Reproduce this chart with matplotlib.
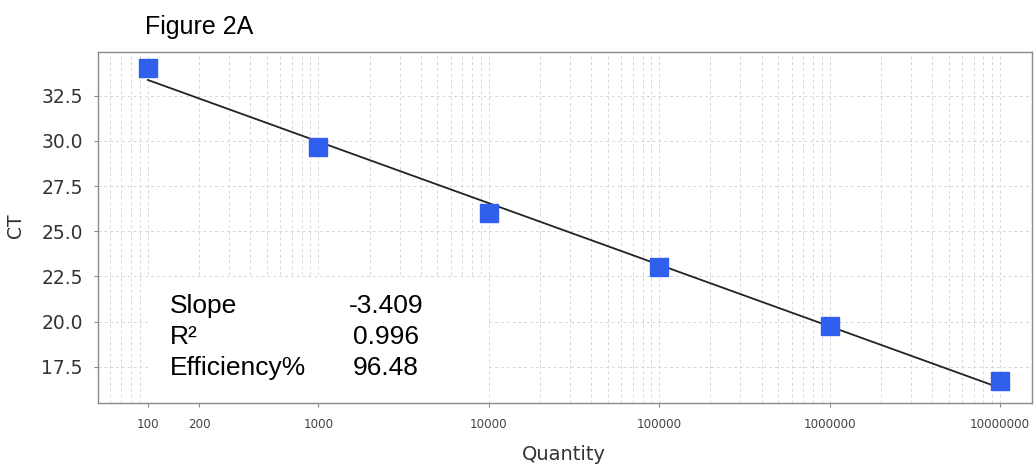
import numpy as np
import matplotlib
matplotlib.use("Agg")
import matplotlib.pyplot as plt
from matplotlib.patches import Rectangle
from matplotlib.ticker import FixedLocator, FixedFormatter, LogLocator, NullFormatter

plt.rcParams['font.family'] = ['DejaVu Sans']

quantity = [100, 1000, 10000, 100000, 1000000, 10000000]
ct = [34.0, 29.65, 26.0, 23.0, 19.75, 16.7]
x_ticks = [100, 200, 1000, 10000, 100000, 1000000, 10000000]
x_tick_labels = ["100", "200", "1000", "10000", "100000", "1000000", "10000000"]
y_ticks = [17.5, 20.0, 22.5, 25.0, 27.5, 30.0, 32.5]
stat_names = ["Slope", "R\u00b2", "Efficiency%"]
stat_values = ["-3.409", "0.996", "96.48"]

fig = plt.figure(figsize=(10.34, 4.66), dpi=100)
ax = fig.add_axes([0.0948, 0.1352, 0.9032, 0.7528])
ax.set_xscale('log')
ax.set_xlim(51, 1.54e7)
ax.set_ylim(15.5, 34.9)

# grid
ax.xaxis.set_major_locator(FixedLocator(x_ticks))
ax.xaxis.set_major_formatter(FixedFormatter(x_tick_labels))
ax.xaxis.set_minor_locator(LogLocator(base=10, subs=np.arange(2, 10)))
ax.xaxis.set_minor_formatter(NullFormatter())
ax.set_yticks(y_ticks)
ax.set_yticklabels([f"{v:.1f}" for v in y_ticks])
ax.grid(True, which='both', axis='x', color='#d6d6d6', linestyle=(0, (3, 3)), linewidth=0.7)
ax.grid(True, which='major', axis='y', color='#d6d6d6', linestyle=(0, (3, 3)), linewidth=0.7)
ax.set_axisbelow(True)

# fit line
lx = np.log10(quantity)
coef = np.polyfit(lx, ct, 1)
xf = np.array([quantity[0], quantity[-1]])
ax.plot(xf, np.polyval(coef, np.log10(xf)), color='#222222', lw=1.3, zorder=3)
ax.plot(quantity, ct, 's', color='#2F5FEC', markersize=12.5, zorder=4)

# stats box
ax.add_patch(Rectangle((0.0535, 0.0), 0.364, 0.359, transform=ax.transAxes,
                       facecolor='white', edgecolor='none', zorder=2.5))
ys = [0.256, 0.168, 0.080]
for name, val, yy in zip(stat_names, stat_values, ys):
    ax.text(0.077, yy, name, transform=ax.transAxes, fontsize=19, va='baseline', ha='left',
            color='black', zorder=5, family='Liberation Sans')
    ax.text(0.3085, yy, val, transform=ax.transAxes, fontsize=19, va='baseline', ha='center',
            color='black', zorder=5, family='Liberation Sans')

for s in ax.spines.values():
    s.set_color('#8a8a8a')
    s.set_linewidth(1.0)

ax.tick_params(axis='x', which='major', labelsize=8.6, colors='#8a8a8a', labelcolor='#444444', length=3, pad=8)
ax.tick_params(axis='x', which='minor', length=0)
ax.tick_params(axis='y', labelsize=13.5, colors='#8a8a8a', labelcolor='#333333', length=3, pad=8)

fig.text(564 / 1034, 1 - 460 / 466, "Quantity", fontsize=14, color='#333333', ha='center', va='baseline')
fig.text(16 / 1034, 1 - 225.5 / 466, "CT", fontsize=13.5, color='#333333', ha='center', va='center', rotation=90)

fig.text(145 / 1034, 1 - 34 / 466, "Figure 2A", fontsize=18, color='black', ha='left', va='baseline',
         family='Liberation Sans')

fig.savefig("out.png", dpi=100)
